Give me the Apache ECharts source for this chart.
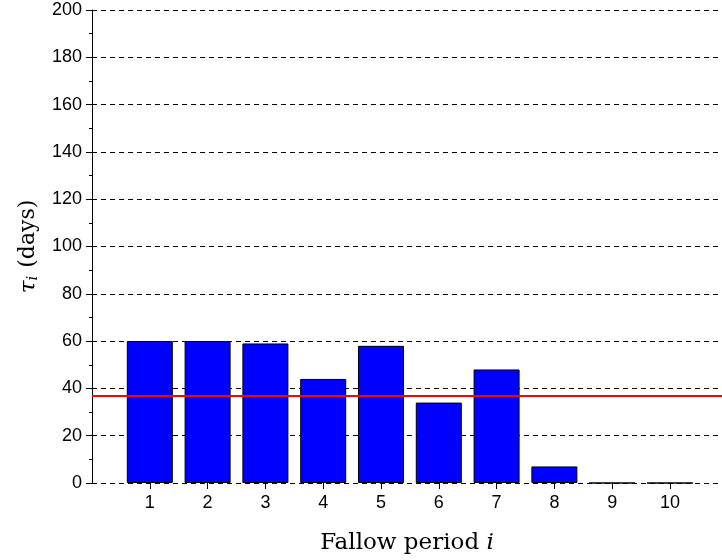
<!DOCTYPE html>
<html>
<head>
<meta charset="utf-8">
<script src="https://cdn.jsdelivr.net/npm/echarts@6/dist/echarts.min.js"></script>
<style>html,body{margin:0;padding:0;background:#fff;}#c{width:722px;height:560px;}</style>
</head>
<body>
<div id="c"></div>
<script>
const periods = [1, 2, 3, 4, 5, 6, 7, 8, 9, 10];
const tau = [60, 60, 59, 44, 58, 34, 48, 7, 0, 0];
const meanTau = 37;

const chart = echarts.init(document.getElementById('c'), null, {renderer: 'canvas'});
const barData = periods.map((p, i) => [p, tau[i]]);

chart.setOption({
  animation: false,
  backgroundColor: '#fff',
  grid: {left: 92, top: 10, bottom: 77, right: 0, outerBoundsMode: 'none'},
  xAxis: {
    type: 'value', min: 0, max: 10.9, interval: 1,
    name: '{n|Fallow period }{i|i}',
    nameLocation: 'middle', nameGap: 49,
    nameTextStyle: {rich: {
      n: {fontFamily: 'DejaVu Serif', fontSize: 23, color: '#000'},
      i: {fontFamily: 'DejaVu Serif', fontStyle: 'italic', fontSize: 23, color: '#000'}
    }},
    axisLine: {show: false},
    axisTick: {show: true, customValues: periods, length: 6, lineStyle: {color: '#000'}},
    axisLabel: {customValues: periods, fontFamily: 'Liberation Sans', fontSize: 18, color: '#000', margin: 11},
    splitLine: {show: false}
  },
  yAxis: {
    type: 'value', min: 0, max: 200, interval: 20,
    name: '{t|τ}{s|i}{n|(days)}',
    nameLocation: 'middle', nameGap: 50, nameRotate: 90,
    nameTextStyle: {rich: {
      t: {fontFamily: 'DejaVu Serif', fontStyle: 'italic', fontSize: 23, color: '#000'},
      s: {fontFamily: 'DejaVu Serif', fontStyle: 'italic', fontSize: 15, color: '#000', verticalAlign: 'bottom', padding: [10, 0, 0, 0]},
      n: {fontFamily: 'DejaVu Serif', fontSize: 22, color: '#000', padding: [0, 0, 0, 8]}
    }},
    axisLine: {show: true, lineStyle: {color: '#000', width: 1}},
    axisTick: {show: true, length: 6, lineStyle: {color: '#000'}},
    minorTick: {show: true, splitNumber: 2, length: 3, lineStyle: {color: '#000'}},
    axisLabel: {fontFamily: 'Liberation Sans', fontSize: 18, color: '#000', margin: 10},
    splitLine: {show: true, lineStyle: {color: '#000', type: [5, 4], width: 1}}
  },
  series: [{
    type: 'bar',
    data: barData,
    barWidth: 46,
    itemStyle: {color: '#0000ff', borderColor: '#000', borderWidth: 1},
    markLine: {
      silent: true,
      symbol: 'none',
      label: {show: false},
      lineStyle: {color: '#ff0000', width: 2, type: 'solid'},
      data: [{yAxis: meanTau}]
    }
  }]
});
</script>
</body>
</html>
